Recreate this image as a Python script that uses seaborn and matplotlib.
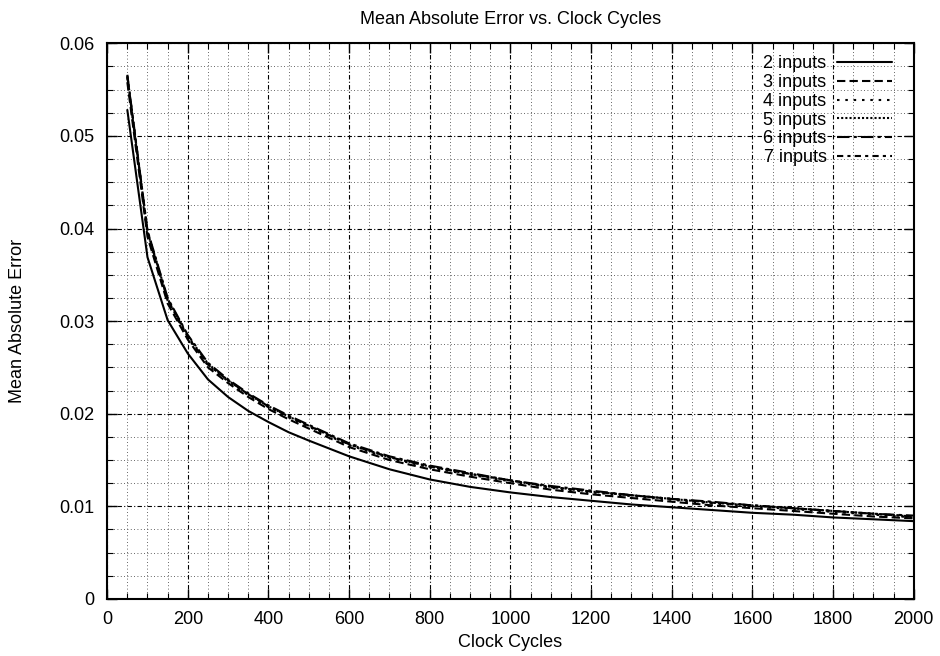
import matplotlib
matplotlib.use("Agg")
import matplotlib.pyplot as plt
from matplotlib.ticker import MultipleLocator, FuncFormatter
import seaborn as sns
import pandas as pd

cycles = [50, 100, 150, 200, 250, 300, 350, 400, 450, 500, 600, 700, 800, 900,
          1000, 1100, 1200, 1300, 1400, 1500, 1600, 1700, 1800, 1900, 2000]

in2 = [0.0528, 0.0369, 0.0301, 0.0265, 0.0237, 0.0218, 0.0203, 0.0191, 0.0180, 0.0171,
       0.0154, 0.0140, 0.0129, 0.0121, 0.0115, 0.0110, 0.0106, 0.0102, 0.0099, 0.0096,
       0.0093, 0.0091, 0.0088, 0.0086, 0.0084]
in3 = [0.0558, 0.0391, 0.0319, 0.0280, 0.0250, 0.0233, 0.0218, 0.0205, 0.0194, 0.0184,
       0.0164, 0.0150, 0.0140, 0.0132, 0.0125, 0.0118, 0.0113, 0.0109, 0.0105, 0.0101,
       0.0098, 0.0095, 0.0092, 0.0089, 0.0087]
in4 = [0.0563, 0.0395, 0.0322, 0.0282, 0.0252, 0.0235, 0.0220, 0.0207, 0.0196, 0.0186,
       0.0166, 0.0152, 0.0142, 0.0134, 0.0127, 0.0120, 0.0115, 0.0111, 0.0107, 0.0103,
       0.0100, 0.0097, 0.0094, 0.0091, 0.0088]
in5 = [0.0565, 0.0397, 0.0324, 0.0284, 0.0254, 0.0236, 0.0221, 0.0208, 0.0197, 0.0187,
       0.0167, 0.0153, 0.0143, 0.0135, 0.0128, 0.0121, 0.0116, 0.0112, 0.0108, 0.0104,
       0.0101, 0.0098, 0.0095, 0.0092, 0.0089]
in6 = [0.0566, 0.0398, 0.0325, 0.0285, 0.0255, 0.0237, 0.0222, 0.0209, 0.0198, 0.0188,
       0.0168, 0.0154, 0.0144, 0.0136, 0.0128, 0.0122, 0.0117, 0.0112, 0.0108, 0.0105,
       0.0101, 0.0098, 0.0095, 0.0092, 0.0090]
in7 = [0.0564, 0.0396, 0.0323, 0.0283, 0.0253, 0.0236, 0.0221, 0.0208, 0.0197, 0.0187,
       0.0167, 0.0153, 0.0143, 0.0135, 0.0128, 0.0121, 0.0116, 0.0112, 0.0108, 0.0104,
       0.0101, 0.0098, 0.0095, 0.0092, 0.0089]

labels = ["2 inputs", "3 inputs", "4 inputs", "5 inputs", "6 inputs", "7 inputs"]
series = [in2, in3, in4, in5, in6, in7]

rows = []
for lab, vals in zip(labels, series):
    for c, v in zip(cycles, vals):
        rows.append({"Clock Cycles": c, "Mean Absolute Error": v, "series": lab})
df = pd.DataFrame(rows)

sns.set_style("ticks")
plt.rcParams["font.family"] = ["Liberation Sans", "DejaVu Sans"]
plt.rcParams["font.size"] = 13
plt.rcParams["text.color"] = "black"
plt.rcParams["axes.labelcolor"] = "black"

fig = plt.figure(figsize=(9.4, 6.56), dpi=100)
ax = fig.add_axes([0.114, 0.087, 0.858, 0.847])

dashes = {
    "2 inputs": "",
    "3 inputs": (4, 2),
    "4 inputs": (1.2, 2.8),
    "5 inputs": (1, 1),
    "6 inputs": (6, 2, 1.5, 2),
    "7 inputs": (3, 2, 1.5, 2),
}
sns.lineplot(data=df, x="Clock Cycles", y="Mean Absolute Error", style="series",
             style_order=labels, dashes=dashes, color="black", linewidth=1.5,
             ax=ax, legend=True)

ax.set_xlim(0, 2000)
ax.set_ylim(0, 0.06)
ax.xaxis.set_major_locator(MultipleLocator(200))
ax.xaxis.set_minor_locator(MultipleLocator(50))
ax.yaxis.set_major_locator(MultipleLocator(0.01))
ax.yaxis.set_minor_locator(MultipleLocator(0.0025))
ax.yaxis.set_major_formatter(FuncFormatter(lambda v, p: "0" if abs(v) < 1e-9 else f"{v:.2f}"))

ax.grid(which="major", color="black", linestyle=(0, (4, 2, 1, 2)), linewidth=0.8)
ax.grid(which="minor", color="0.2", linestyle=(0, (1, 3)), linewidth=0.6)
ax.set_axisbelow(True)

ax.tick_params(which="both", direction="in", top=True, right=True, labelsize=13,
               colors="black", labelcolor="black")
ax.tick_params(which="major", length=7, width=1, pad=9)
ax.tick_params(which="minor", length=4, width=0.8)
for s in ax.spines.values():
    s.set_linewidth(1.5)
    s.set_color("black")

ax.set_title("Mean Absolute Error vs. Clock Cycles", fontsize=13, pad=14, color="black")
ax.set_xlabel("Clock Cycles", fontsize=13, labelpad=4, color="black")
ax.set_ylabel("Mean Absolute Error", fontsize=13, labelpad=24, color="black")

handles, labs = ax.get_legend_handles_labels()
ax.legend(handles, labs, loc="upper right", bbox_to_anchor=(0.986, 0.998), frameon=False,
          markerfirst=False, handlelength=3.0, labelspacing=0.1, handletextpad=0.6,
          fontsize=13, borderaxespad=0.2, labelcolor="black")

fig.savefig("out.png", dpi=100)
